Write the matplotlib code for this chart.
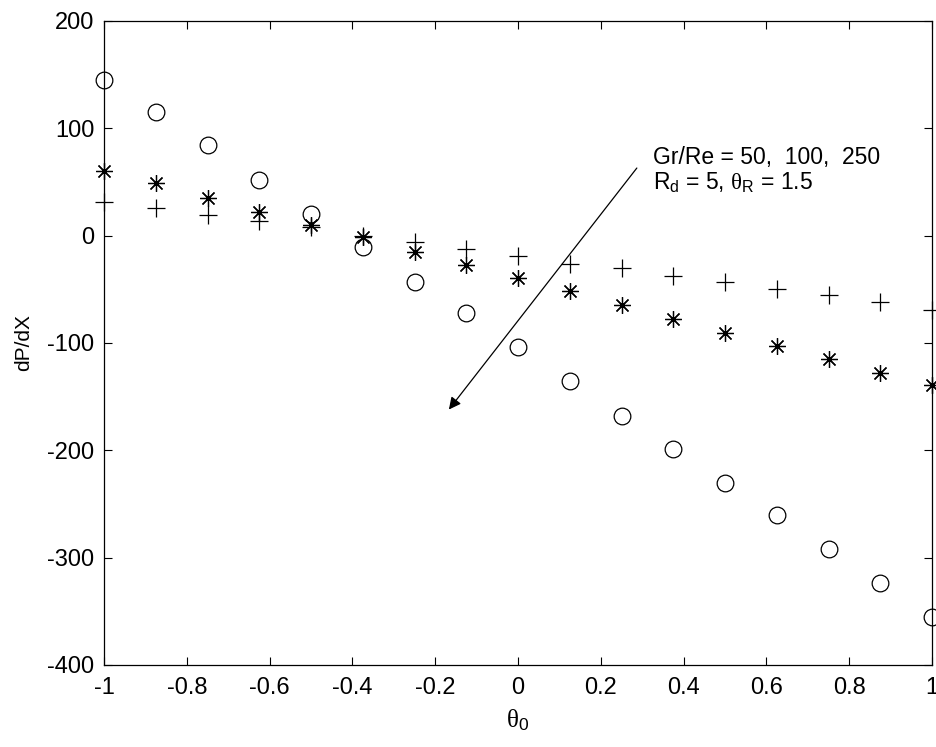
import matplotlib
matplotlib.use("Agg")
import matplotlib.pyplot as plt
import numpy as np

plt.rcParams['font.family'] = ['Liberation Sans', 'DejaVu Sans']
plt.rcParams['axes.unicode_minus'] = False
plt.rcParams['mathtext.fontset'] = 'custom'
plt.rcParams['mathtext.rm'] = 'Liberation Serif'
plt.rcParams['mathtext.sf'] = 'Liberation Sans'
plt.rcParams['mathtext.it'] = 'Liberation Serif:italic'

theta0 = [-1, -0.875, -0.75, -0.625, -0.5, -0.375, -0.25, -0.125, 0,
          0.125, 0.25, 0.375, 0.5, 0.625, 0.75, 0.875, 1]
grre50 = [31, 26, 19, 14, 8, 0, -6, -12, -19, -26, -30, -38, -43, -50, -55, -62, -69]
grre100 = [60, 49, 35, 22, 10, -1, -15, -27, -39, -52, -65, -78, -91, -103, -115, -128, -139]
grre250 = [145, 115, 84, 52, 20, -11, -43, -72, -104, -135, -168, -199, -230, -260, -292, -324, -355]

xticks = [-1, -0.8, -0.6, -0.4, -0.2, 0, 0.2, 0.4, 0.6, 0.8, 1]
xticklabels = ['-1', '-0.8', '-0.6', '-0.4', '-0.2', '0', '0.2', '0.4', '0.6', '0.8', '1']
yticks = [-400, -300, -200, -100, 0, 100, 200]

fig = plt.figure(figsize=(9.37, 7.47), dpi=100)
ax = fig.add_axes([0.111, 0.1098, 0.8837, 0.8621])

ax.plot(theta0, grre50, linestyle='none', marker='+', markersize=13,
        markeredgewidth=0.9, color='black', clip_on=False)
ax.plot(theta0, grre100, linestyle='none', marker=(8, 2, 0), markersize=12,
        markeredgewidth=0.9, color='black', clip_on=False)
ax.plot(theta0, grre250, linestyle='none', marker='o', markersize=12,
        markerfacecolor='none', markeredgewidth=0.9, color='black', clip_on=False)

ax.set_xlim(-1, 1)
ax.set_ylim(-400, 200)
ax.set_xticks(xticks)
ax.set_xticklabels(xticklabels)
ax.set_yticks(yticks)
ax.tick_params(direction='in', top=True, right=True, labelsize=17, length=6, width=0.8)
ax.tick_params(axis='x', pad=9)
ax.tick_params(axis='y', pad=7)
for s in ax.spines.values():
    s.set_linewidth(0.9)

ax.set_xlabel(r'$\mathrm{θ}_\mathsf{0}$', fontsize=18, labelpad=6)
ax.set_ylabel('dP/dX', fontsize=15, labelpad=10)

ax.annotate('', xy=(-0.167, -162), xytext=(0.287, 63),
            arrowprops=dict(arrowstyle='-|>', color='black', lw=0.9,
                            mutation_scale=18, shrinkA=0, shrinkB=0))
ax.text(0.326, 73, 'Gr/Re = 50,  100,  250', fontsize=16.5, ha='left', va='center')
ax.text(0.326, 49, r'R$_\mathsf{d}$ = 5, $\mathrm{θ}_\mathsf{R}$ = 1.5', fontsize=16.5, ha='left', va='center')

fig.savefig('out.png', dpi=100)
